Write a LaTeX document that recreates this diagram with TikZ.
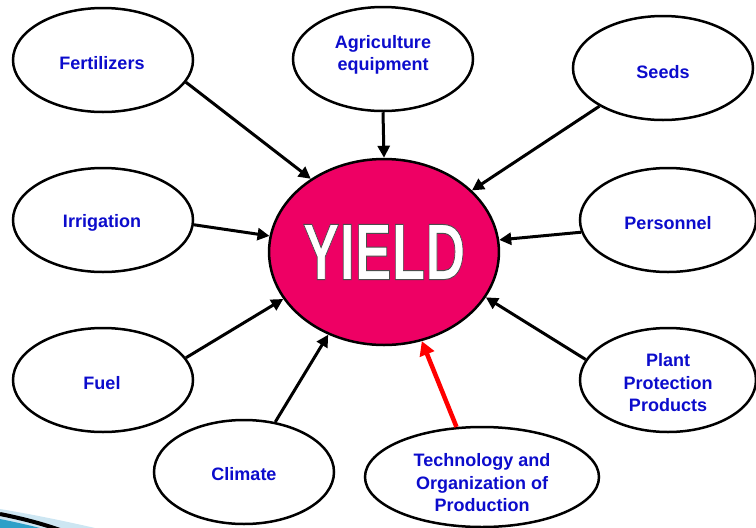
\documentclass[tikz,border=0pt]{standalone}
\usepackage{fontspec}
\setmainfont{Liberation Sans}
\newfontfamily\yieldfont[FakeBold=1.2]{Liberation Sans Bold}
\usepackage{graphicx}
\usetikzlibrary{shapes.geometric,arrows.meta}
\definecolor{labelblue}{RGB}{12,12,204}
\definecolor{yieldpink}{RGB}{238,0,100}
\definecolor{swooshlight}{RGB}{205,230,242}
\definecolor{swooshblue}{RGB}{46,160,200}
% white glyphs stroked in dark grey
\newcommand{\outlinedword}[1]{{\yieldfont\bfseries\special{pdf:literal direct 0.3 0.3 0.3 RG}#1}}
\begin{document}
\begin{tikzpicture}[x=1pt,y=-1pt,
  factor/.style={ellipse,draw=black,line width=2.5pt,fill=white,
    minimum width=180pt,minimum height=104pt,inner sep=0pt},
  caption/.style={align=center,inner sep=0pt,
    font=\bfseries\fontsize{18}{22.5}\selectfont,text=labelblue},
  feed/.style={draw=black,line width=3pt,-{Triangle[length=12pt,width=12pt]}},
  keyfeed/.style={draw=red,line width=4.5pt,-{Triangle[length=14pt,width=15pt]}}]
\useasboundingbox (0,0) rectangle (756,528);

% corner swoosh
\fill[swooshlight] (0,509) .. controls (30,514) and (60,520) .. (95,528) -- (0,528) -- cycle;
\fill[swooshblue] (0,519) .. controls (15,522) and (28,525) .. (40,528) -- (0,528) -- cycle;
\draw[line width=4pt] (0,514) .. controls (20,518) and (40,523) .. (60,530);

% central node
\node[ellipse,draw=black,line width=2.5pt,fill=yieldpink,minimum width=228pt,
  minimum height=186pt,inner sep=0pt,text=white] (yield) at (384,252)
  {\scalebox{0.69}[1]{\fontsize{80}{80}\selectfont\outlinedword{YIELD}}};

% factors
\node[factor] (fert) at (103,60) {};
\node[factor] (agri) at (383,59) {};
\node[factor] (seeds) at (663,68) {};
\node[factor] (irrig) at (103,220) {};
\node[factor,minimum width=176pt] (pers) at (668,220) {};
\node[factor] (fuel) at (103,380) {};
\node[factor,minimum width=176pt] (plant) at (668,380) {};
\node[factor] (climate) at (244,472) {};
\node[factor,minimum width=234pt,minimum height=100pt] (tech) at (482,477) {};

% factor labels
\node[caption] (fert-t) at (102,63) {Fertilizers};
\node[caption] (agri-t) at (383,55) {Agriculture\\equipment};
\node[caption] (seeds-t) at (663,72) {Seeds};
\node[caption] (irrig-t) at (102,223) {Irrigation};
\node[caption] (pers-t) at (668,223) {Personnel};
\node[caption] (fuel-t) at (102,383) {Fuel};
\node[caption] (plant-t) at (668,383) {Plant\\Protection\\Products};
\node[caption] (climate-t) at (244,474) {Climate};
\node[caption] (tech-t) at (482,483) {Technology and\\Organization of\\Production};

% influences
\draw[feed] (fert.-15) -- (yield.135);
\draw[feed] (agri.south) -- (yield.north);
\draw[feed] (seeds.211) -- (yield.35);
\draw[feed] (irrig.-3) -- (yield.172);
\draw[feed] (pers.188) -- (yield.6);
\draw[feed] (fuel.15) -- (yield.205);
\draw[feed] (plant.166) -- (yield.-24);
\draw[feed] (climate.58) -- (yield.-124);
\draw[keyfeed] (tech.117) -- (yield.-67);
\end{tikzpicture}
\end{document}
